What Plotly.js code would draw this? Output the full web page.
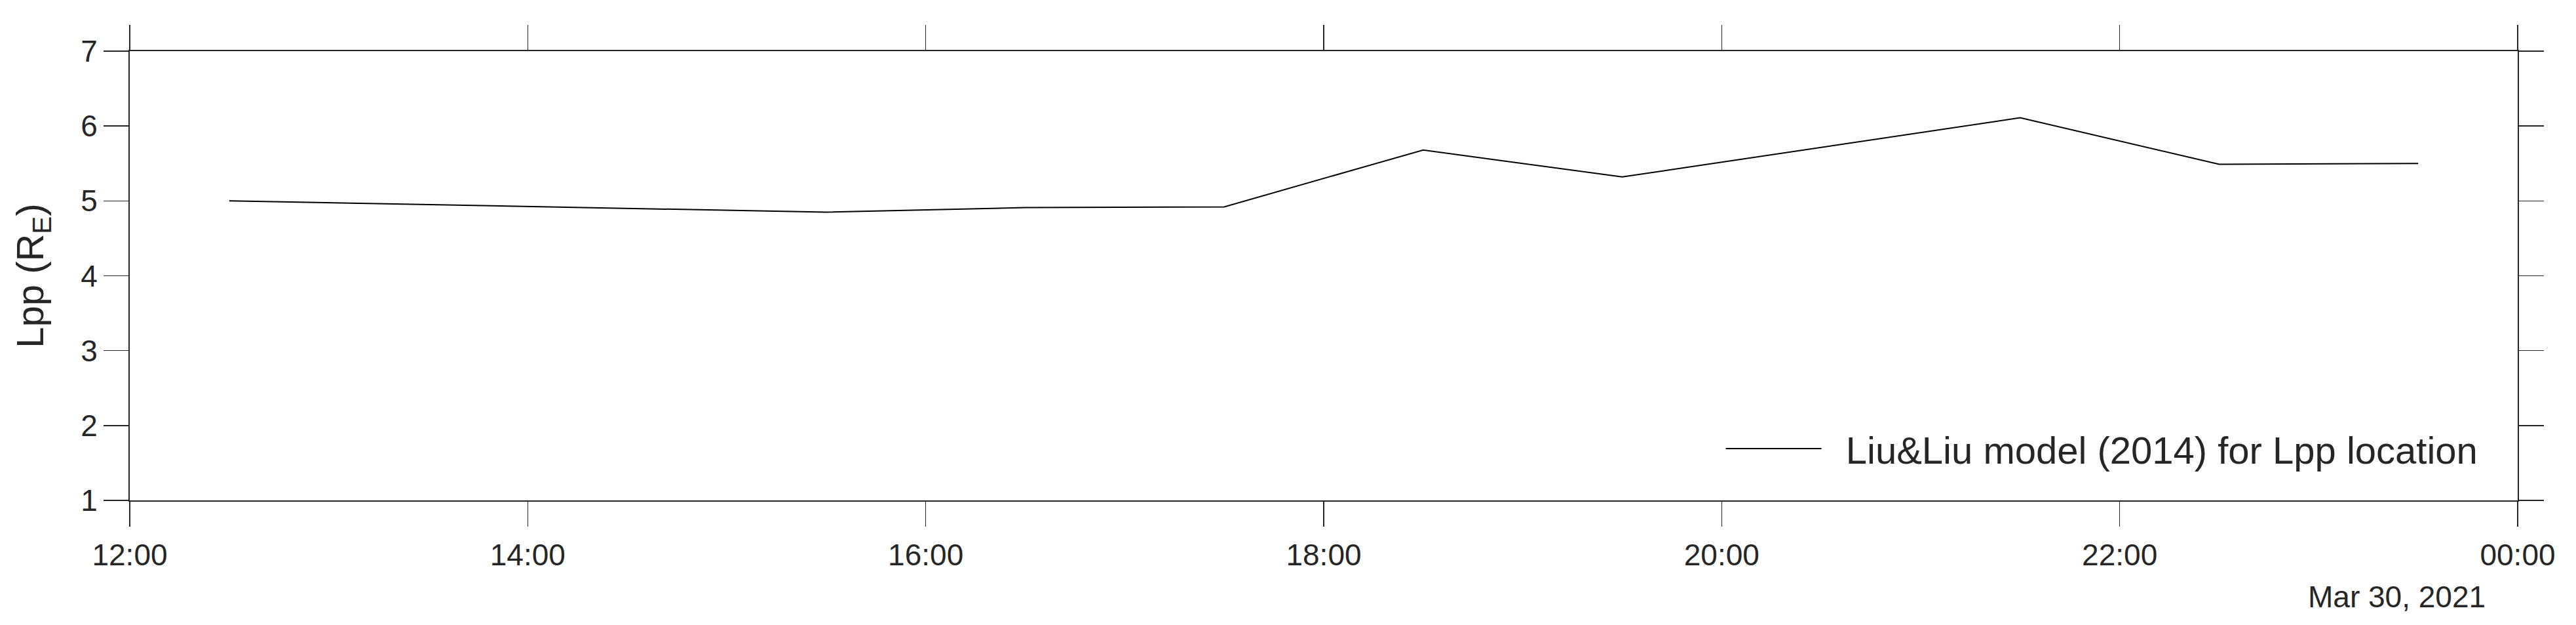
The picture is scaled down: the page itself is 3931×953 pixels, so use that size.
<!DOCTYPE html>
<html>
<head>
<meta charset="utf-8">
<script src="https://cdn.plot.ly/plotly-3.0.1.min.js"></script>
<style>
  html, body { margin: 0; padding: 0; background: #fff; }
  #chart { width: 3931px; height: 953px; }
</style>
</head>
<body>
<div id="chart"></div>
<script>
// Lpp from the Liu&Liu (2014) model
const times = [
  '2021-03-29 12:30', '2021-03-29 15:30', '2021-03-29 16:30',
  '2021-03-29 17:30', '2021-03-29 18:30', '2021-03-29 19:30',
  '2021-03-29 21:30', '2021-03-29 22:30', '2021-03-29 23:30'
];
const lpp = [5.0, 4.85, 4.91, 4.92, 5.68, 5.32, 6.11, 5.49, 5.50];

const seriesName = 'Liu&Liu model (2014) for Lpp location';
const xRange = ['2021-03-29 12:00', '2021-03-30 00:00'];
const dateLabel = 'Mar 30, 2021';

const ink = '#262626';
const font = 'Liberation Sans, Arial, sans-serif';

const trace = {
  x: times,
  y: lpp,
  type: 'scatter',
  mode: 'lines',
  // two no-break spaces to open a gap between the key line and the text
  name: '\u00A0\u00A0' + seriesName,
  line: { color: '#000', width: 2 }
};

const axisCommon = {
  showline: true,
  linecolor: ink,
  linewidth: 2,
  mirror: 'ticks',
  ticks: 'outside',
  ticklen: 38,
  tickwidth: 1.5,
  tickcolor: ink,
  showgrid: false,
  zeroline: false,
  tickfont: { family: font, size: 46, color: ink }
};

const layout = {
  width: 3931,
  height: 953,
  margin: { l: 198, r: 89, t: 78, b: 190 },
  paper_bgcolor: '#fff',
  plot_bgcolor: '#fff',
  showlegend: true,
  font: { family: font, color: ink },
  xaxis: Object.assign({}, axisCommon, {
    type: 'date',
    range: xRange,
    dtick: 2 * 3600 * 1000,
    tick0: xRange[0],
    tickformat: '%H:%M',
    ticklabelstandoff: 4
  }),
  yaxis: Object.assign({}, axisCommon, {
    range: [1, 7],
    dtick: 1,
    title: { text: 'Lpp (R<sub>E</sub>)', font: { family: font, size: 58, color: ink }, standoff: 38 }
  }),
  legend: {
    x: 0.667,
    xanchor: 'left',
    y: 0.115,
    yanchor: 'middle',
    bgcolor: 'rgba(0,0,0,0)',
    borderwidth: 0,
    itemwidth: 146,
    font: { family: font, size: 58, color: ink }
  },
  annotations: [{
    text: dateLabel,
    xref: 'paper', yref: 'paper',
    x: 1, y: 0,
    xanchor: 'right', yanchor: 'middle',
    xshift: -47, yshift: -147,
    showarrow: false,
    font: { family: font, size: 46, color: ink }
  }]
};

Plotly.newPlot('chart', [trace], layout, { displayModeBar: false, staticPlot: true });
</script>
</body>
</html>
